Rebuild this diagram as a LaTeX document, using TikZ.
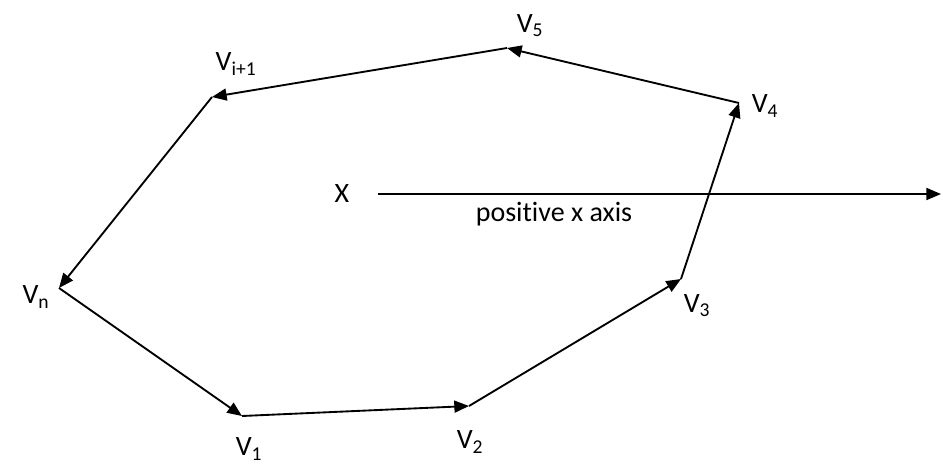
\documentclass[tikz,border=0pt]{standalone}
\usepackage{fontspec}
\setmainfont[Ligatures={NoCommon}]{Carlito}
\usetikzlibrary{arrows.meta}
\begin{document}
\begin{tikzpicture}[x=0.75pt,y=-0.75pt,
  edge/.style={line width=1.4pt,-{Triangle[length=11pt,width=9pt]}},
  lbl/.style={font=\fontsize{21}{24}\selectfont,inner sep=0pt}]
\useasboundingbox (0,0) rectangle (943,465);
% vertices
\coordinate (vn) at (59,288);
\coordinate (v1) at (242,416);
\coordinate (v2) at (469,406);
\coordinate (v3) at (681,279);
\coordinate (v4) at (739,103);
\coordinate (v5) at (507,48);
\coordinate (vi) at (212,97);
\coordinate (xs) at (378,194);
\coordinate (xe) at (941,194);
% edges
\draw[edge] (vn) -- (v1);
\draw[edge] (v1) -- (v2);
\draw[edge] (v2) -- (v3);
\draw[edge] (v3) -- (v4);
\draw[edge] (v4) -- (v5);
\draw[edge] (v5) -- (vi);
\draw[edge] (vi) -- (vn);
\draw[edge] (xs) -- (xe);
% labels
\node[lbl] (lvn) at (36,297) {V\textsubscript{n}};
\node[lbl] (lv1) at (249,449) {V\textsubscript{1}};
\node[lbl] (lv2) at (470,442) {V\textsubscript{2}};
\node[lbl] (lv3) at (697,306) {V\textsubscript{3}};
\node[lbl] (lv4) at (765,106) {V\textsubscript{4}};
\node[lbl] (lv5) at (530,26) {V\textsubscript{5}};
\node[lbl] (lvi) at (236,64) {V\textsubscript{i+1}};
\node[lbl] (lx) at (342,194) {X};
\node[lbl] (lpos) at (554,214) {positive x axis};
\end{tikzpicture}
\end{document}
